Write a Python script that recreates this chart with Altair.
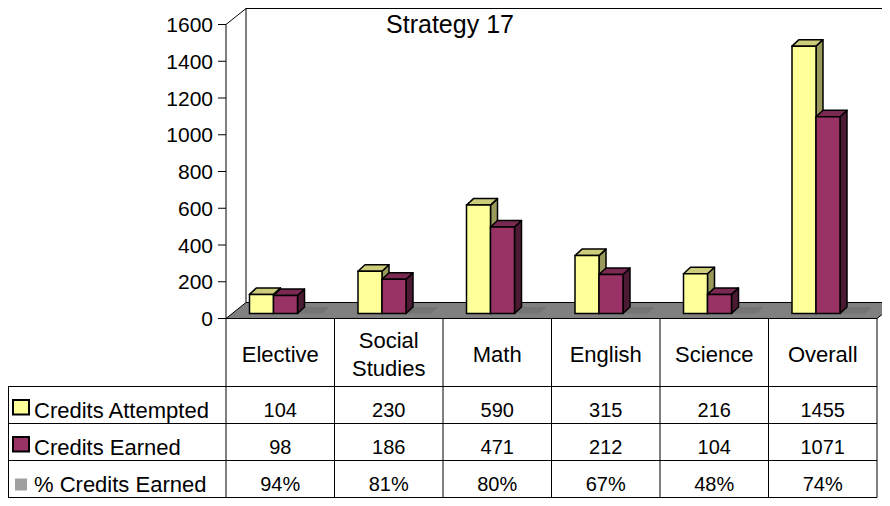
import altair as alt
import pandas as pd

# ---------------- data ----------------
categories = ["Elective", "Social Studies", "Math", "English", "Science", "Overall"]
credits_attempted = [104, 230, 590, 315, 216, 1455]
credits_earned = [98, 186, 471, 212, 104, 1071]
pct_credits_earned = ["94%", "81%", "80%", "67%", "48%", "74%"]
series_names = ["Credits Attempted", "Credits Earned", "% Credits Earned"]
y_ticks = [0, 200, 400, 600, 800, 1000, 1200, 1400, 1600]
chart_title = "Strategy 17"

# ---------------- styles ----------------
front_colors = ["#FFFF99", "#993366", "#A0A0A0"]
top_colors = ["#CCCC7A", "#7A2952"]
side_colors = ["#99995C", "#4D1A33"]
FONT = "Liberation Sans"
FS_TICK, FS_CAT, FS_VAL, FS_LEG, FS_TITLE = 21, 22, 20, 22, 25

# ---------------- layout (pixels of the 874x490 view) ----------------
W, H = 874, 490
P = 108.5               # px per category slot
K = 36.75 / 200.0       # px per value unit
Z = 310.5               # view y of value 0 at the front
XMIN = -218.0 / P
XMAX = XMIN + W / P
YMAX = Z / K
YMIN = -(H - Z) / K
N = len(categories)
YTOP = y_ticks[-1]


def sx(px):
    return px / P


def sv(px):
    return px / K


def xpx(view_x):
    return XMIN + view_x / P


def ypx(view_y):
    return (Z - view_y) / K


xscale = alt.Scale(domain=[XMIN, XMAX], nice=False, zero=False)
yscale = alt.Scale(domain=[YMIN, YMAX], nice=False, zero=False)


def ex(f):
    return alt.X(f"{f}:Q", scale=xscale, axis=None, stack=None)


def ey(f):
    return alt.Y(f"{f}:Q", scale=yscale, axis=None, stack=None)


layers = []

# ---- floor ----
DXF, DYF = sx(20), sv(16)
floor_df = pd.DataFrame({"y": [0.0, DYF], "xa": [0.0, DXF], "xb": [float(N), N + DXF]})
layers.append(
    alt.Chart(floor_df).mark_area(orient="horizontal", fill="#808080", stroke="#000000",
                                  strokeWidth=1, opacity=1)
    .encode(y=ey("y"), x=ex("xa"), x2=alt.X2("xb"))
)

# ---- bar geometry ----
B0 = sv(5)
DXB, DYB = sx(7), sv(6.5)
BW = sx(24)

# floor shadow patches
patch_rows = []
for i in range(N):
    xr = i + sx(71.5)
    patch_rows.append({"id": i, "y": B0, "xa": xr, "xb": xr + sx(25)})
    patch_rows.append({"id": i, "y": B0 + DYB, "xa": xr + DXB, "xb": xr + DXB + sx(25)})
layers.append(
    alt.Chart(pd.DataFrame(patch_rows)).mark_area(orient="horizontal", fill="#747474", opacity=1)
    .encode(y=ey("y"), x=ex("xa"), x2=alt.X2("xb"), detail="id:N")
)

# walls
wall_df = pd.DataFrame([
    {"x": 0.0, "x2": 0.0, "y": 0.0, "y2": float(YTOP)},
    {"x": DXF, "x2": DXF, "y": DYF, "y2": YTOP + DYF},
    {"x": 0.0, "x2": DXF, "y": float(YTOP), "y2": YTOP + DYF},
    {"x": DXF, "x2": XMAX + 1, "y": YTOP + DYF, "y2": YTOP + DYF},
])
layers.append(
    alt.Chart(wall_df).mark_rule(color="#000000", strokeWidth=1)
    .encode(x=ex("x"), x2=alt.X2("x2"), y=ey("y"), y2=alt.Y2("y2"))
)

# y ticks and labels
tick_df = pd.DataFrame({"v": y_ticks, "xa": [-sx(8)] * len(y_ticks), "xb": [0.0] * len(y_ticks)})
layers.append(
    alt.Chart(tick_df).mark_rule(color="#000000", strokeWidth=1)
    .encode(x=ex("xa"), x2=alt.X2("xb"), y=ey("v"))
)
tl_df = pd.DataFrame({"t": [str(v) for v in y_ticks],
                      "y": [v - sv(0.358 * FS_TICK) for v in y_ticks],
                      "x": [-sx(13)] * len(y_ticks)})
layers.append(
    alt.Chart(tl_df).mark_text(font=FONT, fontSize=FS_TICK, align="right", baseline="alphabetic",
                               color="#000000")
    .encode(x=ex("x"), y=ey("y"), text="t:N")
)

# ---- 3D bars ----
for s, values in enumerate([credits_attempted, credits_earned]):
    front, top, side = [], [], []
    for i, v in enumerate(values):
        xl = i + sx(23.5 + 24 * s)
        xr = xl + BW
        t = B0 + v
        front.append({"xl": xl, "xr": xr, "yb": B0, "yt": t})
        top.append({"id": i, "y": t, "xa": xl, "xb": xr})
        top.append({"id": i, "y": t + DYB, "xa": xl + DXB, "xb": xr + DXB})
        side.append({"id": i, "x": xr, "ya": B0, "yb": t})
        side.append({"id": i, "x": xr + DXB, "ya": B0 + DYB, "yb": t + DYB})
    layers.append(
        alt.Chart(pd.DataFrame(side)).mark_area(orient="vertical", fill=side_colors[s], stroke="#000000",
                                                strokeWidth=1.5, opacity=1, strokeJoin="round")
        .encode(x=ex("x"), y=ey("ya"), y2=alt.Y2("yb"), detail="id:N")
    )
    layers.append(
        alt.Chart(pd.DataFrame(top)).mark_area(orient="horizontal", fill=top_colors[s], stroke="#000000",
                                               strokeWidth=1.5, opacity=1, strokeJoin="round")
        .encode(y=ey("y"), x=ex("xa"), x2=alt.X2("xb"), detail="id:N")
    )
    layers.append(
        alt.Chart(pd.DataFrame(front)).mark_rect(fill=front_colors[s], stroke="#000000", strokeWidth=1.5)
        .encode(x=ex("xl"), x2=alt.X2("xr"), y=ey("yb"), y2=alt.Y2("yt"))
    )

# ---- data table ----
HDR_BOTTOM = 378.5
ROW_H = 37.0
row_tops = [HDR_BOTTOM + r * ROW_H for r in range(3)]
TBL_BOTTOM = HDR_BOTTOM + 3 * ROW_H

hl = [{"x": xpx(0), "x2": float(N), "y": ypx(yy), "y2": ypx(yy)} for yy in row_tops + [TBL_BOTTOM]]
vl = [{"x": float(i), "x2": float(i), "y": 0.0, "y2": ypx(TBL_BOTTOM)} for i in range(N + 1)]
vl.append({"x": xpx(0.5), "x2": xpx(0.5), "y": ypx(HDR_BOTTOM), "y2": ypx(TBL_BOTTOM)})
layers.append(
    alt.Chart(pd.DataFrame(hl + vl)).mark_rule(color="#000000", strokeWidth=1)
    .encode(x=ex("x"), x2=alt.X2("x2"), y=ey("y"), y2=alt.Y2("y2"))
)

# header labels
hdr = []
for i, c in enumerate(categories):
    parts = c.split(" ")
    n = len(parts)
    for j, p in enumerate(parts):
        cy = 346 + (j - (n - 1) / 2) * 27.8
        hdr.append({"x": i + 0.5, "y": ypx(cy + 0.358 * FS_CAT), "t": p})
layers.append(
    alt.Chart(pd.DataFrame(hdr)).mark_text(font=FONT, fontSize=FS_CAT, align="center",
                                           baseline="alphabetic", color="#000000")
    .encode(x=ex("x"), y=ey("y"), text="t:N")
)

# values
vals = []
for r, row in enumerate([credits_attempted, credits_earned, pct_credits_earned]):
    for i, v in enumerate(row):
        vals.append({"x": i + 0.5, "y": ypx(row_tops[r] + 23.7 + 0.358 * FS_VAL), "t": str(v)})
layers.append(
    alt.Chart(pd.DataFrame(vals)).mark_text(font=FONT, fontSize=FS_VAL, align="center",
                                            baseline="alphabetic", color="#000000")
    .encode(x=ex("x"), y=ey("y"), text="t:N")
)

# legend labels
leg = [{"x": xpx(26), "y": ypx(row_tops[r] + 23.7 + 0.358 * FS_LEG), "t": name}
       for r, name in enumerate(series_names)]
layers.append(
    alt.Chart(pd.DataFrame(leg)).mark_text(font=FONT, fontSize=FS_LEG, align="left",
                                           baseline="alphabetic", color="#000000")
    .encode(x=ex("x"), y=ey("y"), text="t:N")
)

# legend keys
keys = [
    {"xl": xpx(5), "xr": xpx(21), "yb": ypx(row_tops[0] + 28), "yt": ypx(row_tops[0] + 13.5),
     "fill": front_colors[0]},
    {"xl": xpx(5), "xr": xpx(21), "yb": ypx(row_tops[1] + 28), "yt": ypx(row_tops[1] + 13.5),
     "fill": front_colors[1]},
]
layers.append(
    alt.Chart(pd.DataFrame(keys)).mark_rect(stroke="#000000", strokeWidth=2)
    .encode(x=ex("xl"), x2=alt.X2("xr"), y=ey("yb"), y2=alt.Y2("yt"),
            fill=alt.Fill("fill:N", scale=None))
)
gkey = [{"xl": xpx(7), "xr": xpx(19), "yb": ypx(row_tops[2] + 30), "yt": ypx(row_tops[2] + 18),
         "fill": front_colors[2]}]
layers.append(
    alt.Chart(pd.DataFrame(gkey)).mark_rect()
    .encode(x=ex("xl"), x2=alt.X2("xr"), y=ey("yb"), y2=alt.Y2("yt"),
            fill=alt.Fill("fill:N", scale=None))
)

# title (kept fully visible just under the top edge)
title_df = pd.DataFrame({"x": [xpx(442)], "y": [ypx(25)], "t": [chart_title]})
layers.append(
    alt.Chart(title_df).mark_text(font=FONT, fontSize=FS_TITLE, align="center",
                                  baseline="alphabetic", color="#000000")
    .encode(x=ex("x"), y=ey("y"), text="t:N")
)

chart = (
    alt.layer(*layers)
    .properties(width=W, height=H, autosize=alt.AutoSizeParams(type="none"), padding=0)
    .configure_view(strokeWidth=0)
)

chart.save("out.html", embed_options={"renderer": "svg", "actions": False})
